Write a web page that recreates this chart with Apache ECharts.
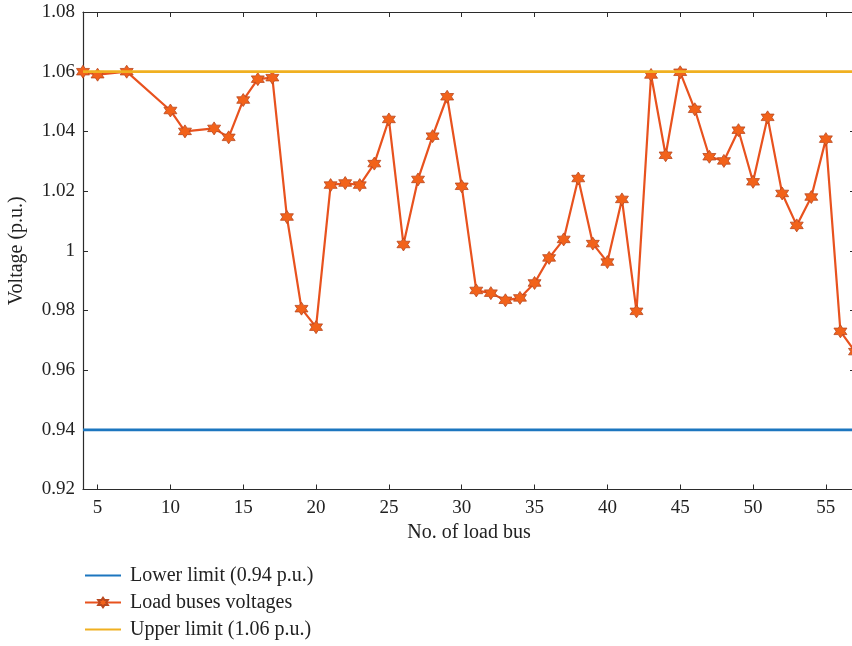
<!DOCTYPE html>
<html>
<head>
<meta charset="utf-8">
<title>Load bus voltage profile</title>
<script src="https://cdn.jsdelivr.net/npm/echarts@6/dist/echarts.min.js"></script>
<style>
  html, body { margin: 0; padding: 0; background: #ffffff; }
  #chart { width: 852px; height: 646px; }
</style>
</head>
<body>
<div id="chart"></div>
<script>
// Load bus numbers (generator buses 1, 2, 3, 6, 8, 9, 12 are excluded)
const loadBuses = [4, 5, 7, 10, 11, 13, 14, 15, 16, 17, 18, 19, 20, 21, 22, 23, 24, 25, 26, 27,
  28, 29, 30, 31, 32, 33, 34, 35, 36, 37, 38, 39, 40, 41, 42, 43, 44, 45, 46, 47,
  48, 49, 50, 51, 52, 53, 54, 55, 56, 57];

// Bus voltage magnitudes (p.u.)
const busVoltages = [1.060, 1.059, 1.060, 1.047, 1.040, 1.041, 1.038, 1.0505, 1.0575, 1.058,
  1.0113, 0.9806, 0.9744, 1.022, 1.0227, 1.022, 1.0292, 1.044, 1.0021, 1.0239,
  1.0384, 1.0516, 1.0216, 0.9867, 0.9858, 0.9834, 0.9842, 0.9892, 0.9976, 1.0038,
  1.0242, 1.0024, 0.9962, 1.0172, 0.9797, 1.0589, 1.032, 1.0598, 1.0474, 1.0315,
  1.0301, 1.0404, 1.0231, 1.0447, 1.0192, 1.0085, 1.018, 1.0374, 0.973, 0.9662];

// Voltage limits (p.u.)
const lowerLimit = 0.94;
const upperLimit = 1.06;

// Axis ranges and tick labels
const xRange = [4, 57];
const xTicks = [5, 10, 15, 20, 25, 30, 35, 40, 45, 50, 55];
const yTicks = [0.92, 0.94, 0.96, 0.98, 1.00, 1.02, 1.04, 1.06, 1.08];
const yTickLabels = ['0.92', '0.94', '0.96', '0.98', '1', '1.02', '1.04', '1.06', '1.08'];

const seriesNames = ['Lower limit (0.94 p.u.)', 'Load buses voltages', 'Upper limit (1.06 p.u.)'];

const FONT = "'Liberation Serif', 'DejaVu Serif', serif";
const AXIS_COLOR = '#2b2b2b';

// six-pointed star marker
const hexagram = 'path://M0,-10 L2.887,-5 L8.66,-5 L5.774,0 L8.66,5 L2.887,5 L0,10 L-2.887,5 L-8.66,5 L-5.774,0 L-8.66,-5 L-2.887,-5 Z';

const voltageData = loadBuses.map((b, i) => [b, busVoltages[i]]);
const lowerData = xRange.map(x => [x, lowerLimit]);
const upperData = xRange.map(x => [x, upperLimit]);

const chart = echarts.init(document.getElementById('chart'), null, { renderer: 'canvas' });

const tickStyle = { inside: true, length: 5, lineStyle: { color: AXIS_COLOR, width: 1 } };
const lineStyle = { lineStyle: { color: AXIS_COLOR, width: 1.2 } };

chart.setOption({
  backgroundColor: '#ffffff',
  animation: false,
  grid: { left: 83, top: 12, right: -3, bottom: 156.5, containLabel: false, outerBoundsMode: 'none' },
  legend: {
    orient: 'vertical',
    left: 79,
    top: 560,
    itemWidth: 36,
    itemHeight: 12,
    itemGap: 6,
    data: seriesNames,
    textStyle: { fontFamily: FONT, fontSize: 20, color: '#222', lineHeight: 21, padding: [0, 0, 0, 4] }
  },
  xAxis: [
    {
      type: 'value', position: 'bottom', min: xRange[0], max: xRange[1],
      name: 'No. of load bus', nameLocation: 'middle', nameGap: 30,
      nameTextStyle: { fontFamily: FONT, fontSize: 20, color: '#222' },
      axisLine: lineStyle,
      axisTick: Object.assign({ customValues: xTicks }, tickStyle),
      axisLabel: { customValues: xTicks, fontFamily: FONT, fontSize: 19, color: '#222', margin: 9 },
      splitLine: { show: false }
    },
    {
      type: 'value', position: 'top', min: xRange[0], max: xRange[1],
      axisLine: lineStyle,
      axisTick: Object.assign({ customValues: xTicks }, tickStyle),
      axisLabel: { show: false },
      splitLine: { show: false }
    }
  ],
  yAxis: [
    {
      type: 'value', position: 'left', min: 0.92, max: 1.08,
      name: 'Voltage (p.u.)', nameLocation: 'middle', nameGap: 56,
      nameTextStyle: { fontFamily: FONT, fontSize: 20, color: '#222' },
      axisLine: lineStyle,
      axisTick: Object.assign({ customValues: yTicks }, tickStyle),
      axisLabel: {
        customValues: yTicks, fontFamily: FONT, fontSize: 19, color: '#222', margin: 8,
        formatter: (v) => yTickLabels[yTicks.findIndex(t => Math.abs(t - v) < 1e-9)]
      },
      splitLine: { show: false }
    },
    {
      type: 'value', position: 'right', min: 0.92, max: 1.08,
      axisLine: lineStyle,
      axisTick: Object.assign({ customValues: yTicks }, tickStyle),
      axisLabel: { show: false },
      splitLine: { show: false }
    }
  ],
  series: [
    {
      name: seriesNames[0], type: 'line', data: lowerData, showSymbol: false,
      lineStyle: { color: '#1c76bf', width: 2.8 }, itemStyle: { color: '#1c76bf', opacity: 0 }
    },
    {
      name: seriesNames[1], type: 'line', data: voltageData,
      symbol: hexagram, symbolSize: 13,
      lineStyle: { color: '#e8521e', width: 2.2 },
      itemStyle: { color: '#f2621a', borderColor: '#b9481f', borderWidth: 0.8 },
      clip: false, z: 3
    },
    {
      name: seriesNames[2], type: 'line', data: upperData, showSymbol: false,
      lineStyle: { color: '#f0b021', width: 2.8 }, itemStyle: { color: '#f0b021', opacity: 0 }, z: 4
    }
  ]
});
</script>
</body>
</html>
